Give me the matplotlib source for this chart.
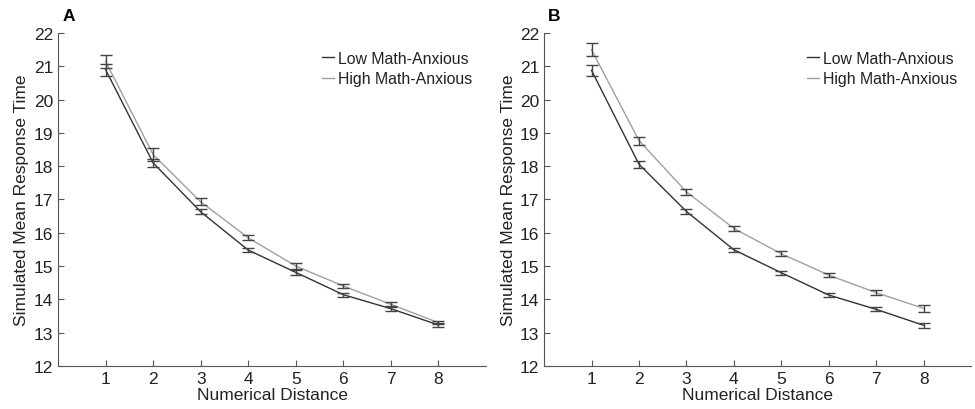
import numpy as np
import matplotlib.pyplot as plt

plt.rcParams['font.family'] = ['Liberation Sans', 'DejaVu Sans']

distance = [1, 2, 3, 4, 5, 6, 7, 8]

# panel A
a_low = [20.90, 18.10, 16.63, 15.48, 14.81, 14.14, 13.72, 13.23]
a_low_err = [0.18, 0.13, 0.07, 0.07, 0.08, 0.06, 0.08, 0.07]
a_high = [21.15, 18.35, 16.93, 15.85, 15.00, 14.40, 13.85, 13.30]
a_high_err = [0.20, 0.19, 0.11, 0.07, 0.08, 0.07, 0.08, 0.05]

# panel B
b_low = [20.88, 18.06, 16.64, 15.49, 14.80, 14.13, 13.70, 13.22]
b_low_err = [0.17, 0.11, 0.07, 0.06, 0.06, 0.05, 0.06, 0.08]
b_high = [21.50, 18.77, 17.23, 16.13, 15.37, 14.73, 14.20, 13.73]
b_high_err = [0.20, 0.12, 0.10, 0.07, 0.08, 0.07, 0.07, 0.10]

low_color = '#333333'
high_color = '#a0a0a0'
err_color = '#444444'

fig = plt.figure(figsize=(9.75, 4.1), dpi=100)
ax_a = fig.add_axes([0.0595, 0.105, 0.439, 0.812])
ax_b = fig.add_axes([0.558, 0.105, 0.438, 0.812])


def draw_panel(ax, low, low_err, high, high_err, letter):
    ax.plot(distance, low, color=low_color, lw=1.0, label='Low Math-Anxious')
    ax.plot(distance, high, color=high_color, lw=1.0, label='High Math-Anxious')
    ax.errorbar(distance, low, yerr=low_err, fmt='none', ecolor=err_color,
                elinewidth=1.0, capsize=4.5, capthick=1.0)
    ax.errorbar(distance, high, yerr=high_err, fmt='none', ecolor=err_color,
                elinewidth=1.0, capsize=4.5, capthick=1.0)

    ax.set_xlim(0, 9)
    ax.set_ylim(12, 22)
    ax.set_xticks(distance)
    ax.set_yticks(np.arange(12, 23, 1))
    ax.spines['top'].set_visible(False)
    ax.spines['right'].set_visible(False)
    for s in ('left', 'bottom'):
        ax.spines[s].set_color('#555555')
        ax.spines[s].set_linewidth(0.8)
    ax.tick_params(direction='in', length=4, width=0.8, color='#555555',
                   labelsize=12.5, labelcolor='#222222')
    ax.set_xlabel('Numerical Distance', fontsize=12.5, color='#222222', labelpad=1)
    ax.set_ylabel('Simulated Mean Response Time', fontsize=12.5, color='#222222',
                  labelpad=3)
    ax.legend(loc='upper right', bbox_to_anchor=(1.0, 0.99), frameon=False,
              fontsize=11.4, handlelength=0.8, handletextpad=0.2,
              labelspacing=0.35, labelcolor='#222222')
    ax.text(0.01, 1.03, letter, transform=ax.transAxes, fontsize=12.5,
            fontweight='bold', ha='left', va='bottom')


draw_panel(ax_a, a_low, a_low_err, a_high, a_high_err, 'A')
draw_panel(ax_b, b_low, b_low_err, b_high, b_high_err, 'B')

fig.savefig('out.png', dpi=100)
